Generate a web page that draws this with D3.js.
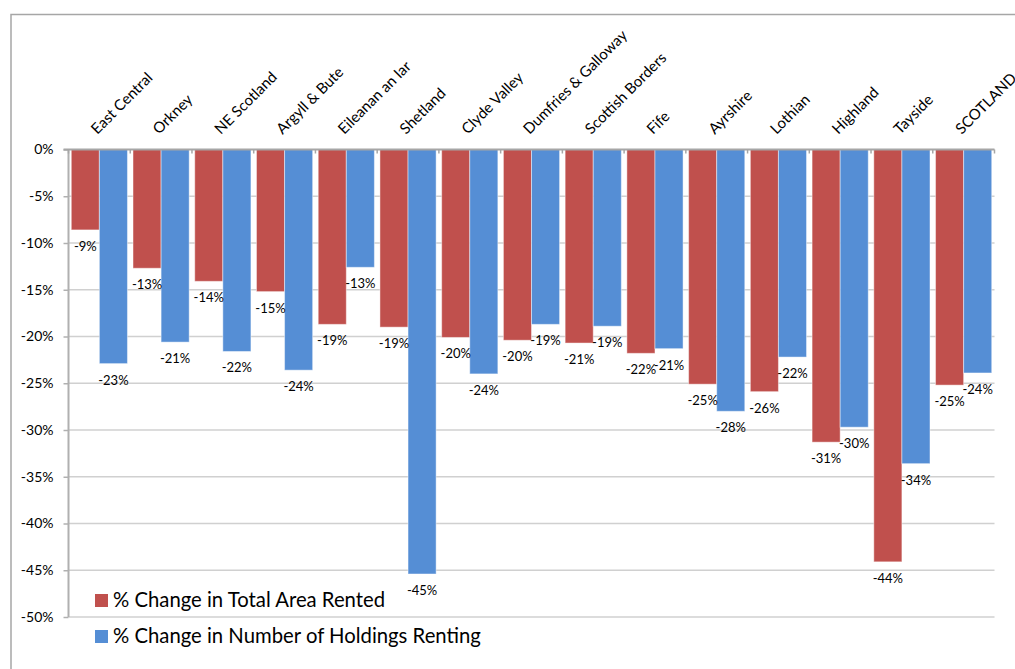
<!DOCTYPE html>
<html>
<head>
<meta charset="utf-8">
<script src="https://cdn.jsdelivr.net/npm/d3@7"></script>
<style>
  html, body { margin: 0; padding: 0; background: #fff; }
  svg { display: block; font-family: Lato, "Open Sans", sans-serif; }
</style>
</head>
<body>
<svg id="chart" width="1015" height="669"></svg>
<script>
const categories = ["East Central", "Orkney", "NE Scotland", "Argyll & Bute", "Eileanan an Iar", "Shetland", "Clyde Valley", "Dumfries & Galloway", "Scottish Borders", "Fife", "Ayrshire", "Lothian", "Highland", "Tayside", "SCOTLAND"];
const areaRented = [-8.6, -12.7, -14.1, -15.2, -18.7, -19.0, -20.1, -20.4, -20.7, -21.8, -25.1, -25.9, -31.3, -44.1, -25.2];
const holdingsRenting = [-22.9, -20.6, -21.6, -23.6, -12.6, -45.4, -24.0, -18.7, -18.9, -21.3, -28.0, -22.2, -29.7, -33.6, -23.9];
const seriesNames = ["% Change in Total Area Rented", "% Change in Number of Holdings Renting"];
const seriesColors = ["#C0504D", "#558ED5"];
const yTicks = [0, -5, -10, -15, -20, -25, -30, -35, -40, -45, -50];

const svg = d3.select("#chart");

// chart frame
svg.append("path")
  .attr("d", "M11,670 L11,14.5 L1016,14.5")
  .attr("fill", "none").attr("stroke", "#a6a6a6").attr("stroke-width", 1.5);

const x0 = 68.5, x1 = 994.5;
const x = d3.scaleBand().domain(categories).range([x0, x1]).paddingInner(0.09).paddingOuter(0.045);
const xs = d3.scaleBand().domain([0, 1]).range([0, x.bandwidth()]);
const y = d3.scaleLinear().domain([-50, 0]).range([617, 149.5]);

// gridlines
svg.append("g").selectAll("line").data(yTicks.filter(t => t !== 0)).join("line")
  .attr("x1", x0).attr("x2", x1)
  .attr("y1", d => y(d)).attr("y2", d => y(d))
  .attr("stroke", "#d0d0d0").attr("stroke-width", 1.5);

// y axis
const yAxis = d3.axisLeft(y).tickValues(yTicks).tickSize(5).tickPadding(10).tickFormat(d => d + "%");
const gy = svg.append("g").attr("transform", `translate(${x0},0)`).call(yAxis);
gy.select(".domain").attr("stroke", "#b0b0b0").attr("stroke-width", 2).attr("d", `M0,${y(0)}V${y(-50)}`);
gy.selectAll(".tick line").attr("stroke", "#b0b0b0").attr("stroke-width", 1.5);
gy.selectAll(".tick text").attr("fill", "#000").style("font-size", "14px").style("font-family", "Lato, sans-serif");

// bars
const data = categories.map((c, i) => ({ c, vals: [areaRented[i], holdingsRenting[i]] }));
const groups = svg.append("g").selectAll("g").data(data).join("g")
  .attr("transform", d => `translate(${x(d.c)},0)`);
groups.selectAll("rect").data(d => d.vals.map((v, k) => ({ v, k }))).join("rect")
  .attr("x", d => xs(d.k))
  .attr("width", xs.bandwidth())
  .attr("y", y(0))
  .attr("height", d => y(d.v) - y(0))
  .attr("fill", d => seriesColors[d.k])
  .attr("stroke", "rgba(255,255,255,0.45)").attr("stroke-width", 1);

// data labels
groups.selectAll("text").data(d => d.vals.map((v, k) => ({ v, k }))).join("text")
  .attr("x", d => xs(d.k) + xs.bandwidth() / 2)
  .attr("y", d => y(d.v) + 21)
  .attr("text-anchor", "middle")
  .style("font-size", "13px")
  .attr("fill", "#000")
  .text(d => Math.round(d.v) + "%");

// x axis at 0 (top)
const gx = svg.append("g");
gx.append("line").attr("x1", x0 - 5).attr("x2", x1).attr("y1", y(0)).attr("y2", y(0))
  .attr("stroke", "#a6a6a6").attr("stroke-width", 2);
const boundaries = categories.map(c => x(c) - x.step() * x.paddingInner() / 2).concat([x1]);
gx.selectAll("line.tk").data(boundaries).join("line").attr("class", "tk")
  .attr("x1", d => d).attr("x2", d => d).attr("y1", y(0)).attr("y2", y(0) + 4)
  .attr("stroke", "#a6a6a6").attr("stroke-width", 1.5);

// category labels
svg.append("g").selectAll("text").data(categories).join("text")
  .attr("transform", c => `translate(${x(c) + x.bandwidth() / 2 - 2},135) rotate(-45)`)
  .attr("text-anchor", "start")
  .style("font-size", "15px")
  .attr("fill", "#000")
  .text(c => c);

// legend
const legend = svg.append("g");
seriesNames.forEach((name, k) => {
  const ly = 594 + k * 36;
  legend.append("rect").attr("x", 95).attr("y", ly).attr("width", 13).attr("height", 13).attr("fill", seriesColors[k]);
  legend.append("text").attr("x", 113).attr("y", ly + 13).style("font-size", "20.3px").attr("fill", "#000").text(name);
});
</script>
</body>
</html>
